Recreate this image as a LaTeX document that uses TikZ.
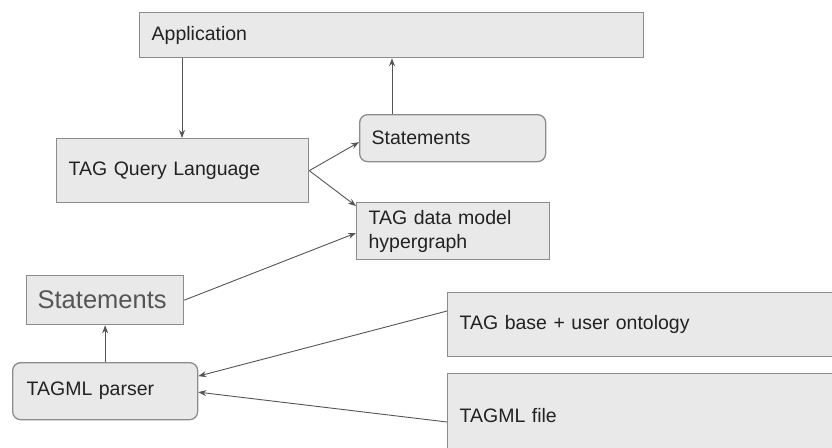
\documentclass[tikz,border=0pt]{standalone}
\usepackage{fontspec}
\setmainfont{Liberation Sans}
\usetikzlibrary{arrows.meta}
\definecolor{boxfill}{HTML}{E9E9E9}
\definecolor{boxline}{HTML}{8C8C8C}
\definecolor{arrcol}{HTML}{555555}
\definecolor{txt}{HTML}{222222}
\begin{document}
\begin{tikzpicture}[x=1pt,y=-1pt,
  box/.style={draw=boxline, fill=boxfill, line width=1.3pt, anchor=north west,
    align=left, inner xsep=12pt, inner ysep=0pt, text=txt,
    font=\fontsize{19.5}{24}\selectfont},
  rbox/.style={box, rounded corners=8pt},
  arr/.style={draw=arrcol, line width=0.9pt, -{Stealth[length=8pt,width=6pt]}}]
\useasboundingbox[fill=white] (0,0) rectangle (832,447);
\node[box, minimum width=504pt, text width=480pt, minimum height=45pt] (app) at (139,12) {Application};
\node[box, minimum width=252pt, text width=228pt, minimum height=64pt] (tql) at (56,138) {TAG Query Language};
\node[rbox, minimum width=186pt, text width=162pt, minimum height=47pt] (stR) at (359,114) {Statements};
\node[box, minimum width=193pt, text width=169pt, minimum height=57pt] (tdm) at (356,202) {TAG data model\\hypergraph};
\node[box, minimum width=157pt, text width=133pt, minimum height=49pt, inner xsep=11pt, text width=135pt, text=arrcol,
  font=\fontsize{25.5}{30}\selectfont] (stL) at (26,275) {Statements};
\node[rbox, minimum width=185pt, text width=157pt, inner xsep=14pt, minimum height=57pt] (parser) at (12,362) {TAGML parser};
\node[box, minimum width=390pt, text width=366pt, minimum height=64pt] (tb) at (447,292) {TAG base + user ontology};
\node[box, minimum width=390pt, text width=366pt, minimum height=84pt] (tf) at (447,373) {TAGML file};

\draw[arr] ([xshift=43pt]app.south west) -- ([xshift=126pt]tql.north west);
\draw[arr] ([xshift=33pt]stR.north west) -- ([xshift=253pt]app.south west);
\draw[arr] (tql.east) -- ([yshift=-4pt]stR.west);
\draw[arr] (tql.east) -- ([yshift=-4pt]tdm.north west);
\draw[arr] (stL.east) -- ([yshift=-31pt]tdm.north west);
\draw[arr] (parser.north) -- (stL.south);
\draw[arr] ([yshift=-19pt]tb.north west) -- ([yshift=15pt]parser.east);
\draw[arr] ([yshift=-49pt]tf.north west) -- ([yshift=-1pt]parser.east);
\end{tikzpicture}
\end{document}
